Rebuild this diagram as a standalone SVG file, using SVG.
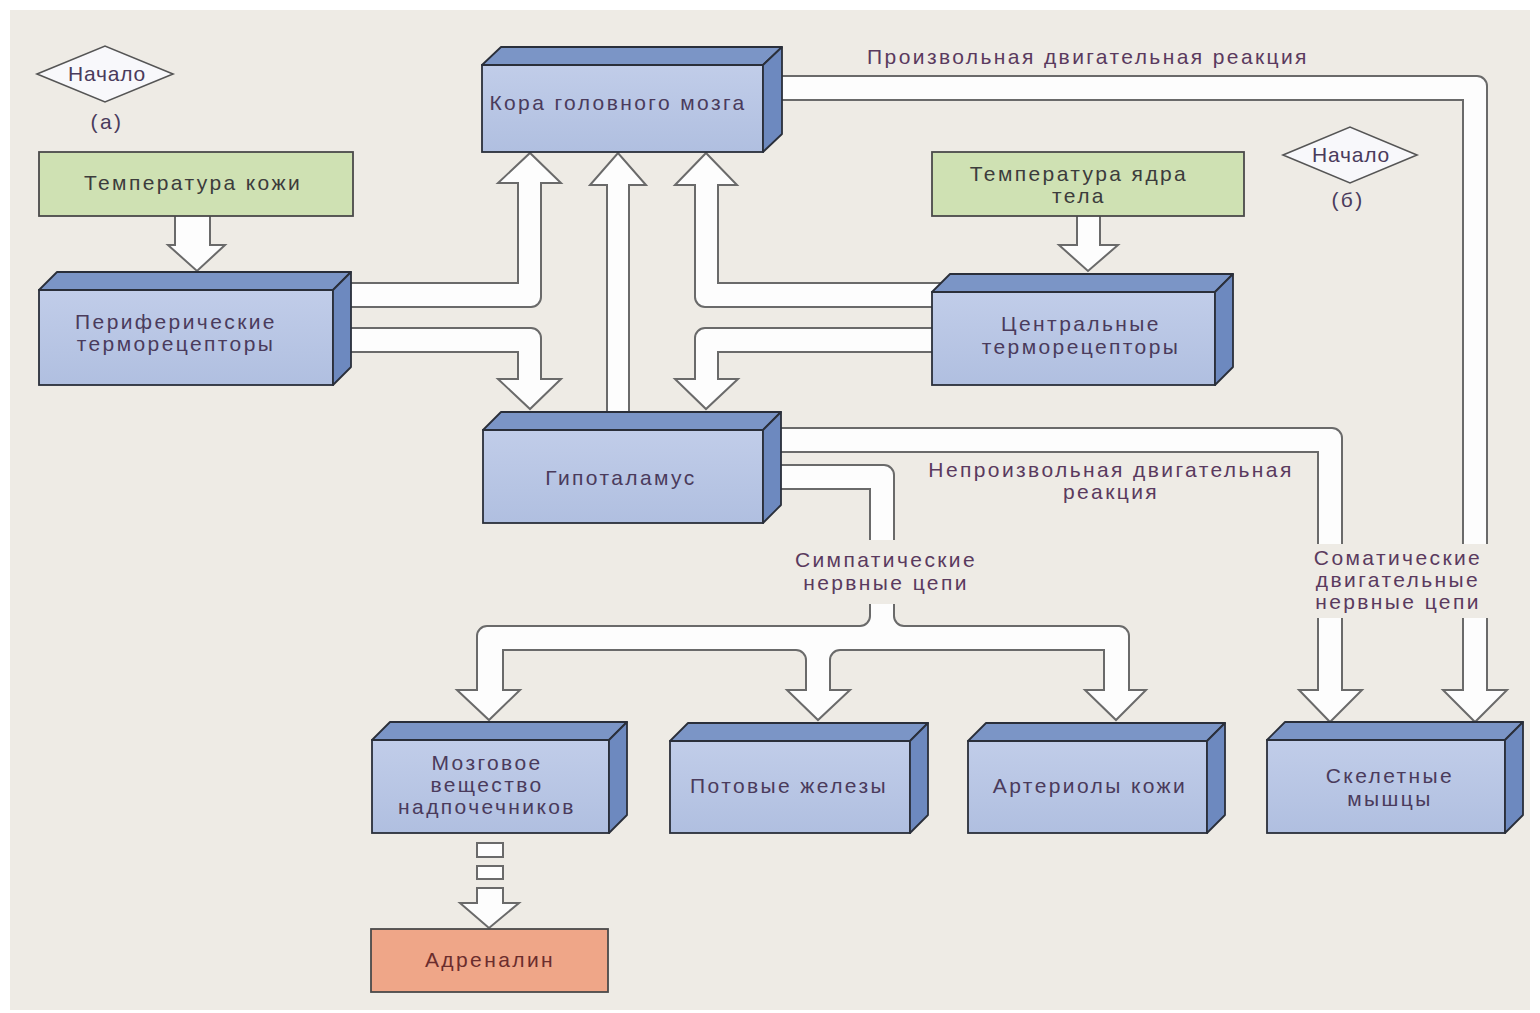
<svg xmlns="http://www.w3.org/2000/svg" width="1540" height="1013" viewBox="0 0 1540 1013">
<style>
.t{font-family:"Liberation Sans",Arial,sans-serif;font-size:21px;letter-spacing:2.4px;text-anchor:middle;fill:#4a3b5c}
.tg{fill:#3c3c3c}
.ta{fill:#6b2d2d}
.tl{fill:#5a3a5e}
.front{fill:url(#gFront);stroke:#2a2f3a;stroke-width:1.8}
.top{fill:#7b95c6;stroke:#2a2f3a;stroke-width:1.8;stroke-linejoin:round}
.side{fill:#6d89bf;stroke:#2a2f3a;stroke-width:1.8;stroke-linejoin:round}
.arr{fill:#fdfdfd;stroke:#6a6a6a;stroke-width:2;stroke-linejoin:miter}
.green{fill:#cfe1b3;stroke:#4a4a4a;stroke-width:1.8}
.salmon{fill:#efa688;stroke:#4a4a4a;stroke-width:1.8}
.dia{fill:#f8f8fb;stroke:#555;stroke-width:1.6}
.bg{fill:#eeebe5}
</style>
<defs>
<linearGradient id="gFront" x1="0" y1="0" x2="0" y2="1">
<stop offset="0" stop-color="#c1cde9"/>
<stop offset="1" stop-color="#b0bfe0"/>
</linearGradient>
</defs>
<rect x="0" y="0" width="1540" height="1013" fill="#ffffff"/>
<rect x="10" y="10" width="1520" height="1000" class="bg"/>

<g id="connectors">
<path class="arr" d="M175,212 V245 H168 L197,271 L225,245 H210 V212 Z"/>
<path class="arr" d="M1077,212 V245 H1059 L1088,271 L1118,245 H1100 V212 Z"/>
<path class="arr" d="M340,283 H518 V183 H498 L530,153 L561,183 H541 V297 A10,10 0 0 1 531,307 H340 Z"/>
<path class="arr" d="M340,328 H531 A10,10 0 0 1 541,338 V379 H561 L530,409 L498,379 H518 V352 H340 Z"/>
<path class="arr" d="M607,425 V185 H590 L618,153 L646,185 H629 V425 Z"/>
<path class="arr" d="M945,283 H718 V185 H737 L706,153 L675,185 H695 V297 A10,10 0 0 0 705,307 H945 Z"/>
<path class="arr" d="M945,328 H705 A10,10 0 0 0 695,338 V379 H675 L706,409 L738,379 H718 V352 H945 Z"/>
<path class="arr" d="M770,76 H1477 A10,10 0 0 1 1487,86 V690 H1507 L1475,722 L1443,690 H1463 V100 H770 Z"/>
<path class="arr" d="M770,428 H1332 A10,10 0 0 1 1342,438 V690 H1362 L1330,722 L1299,690 H1318 V452 H770 Z"/>
<path class="arr" d="M770,465 H884 A10,10 0 0 1 894,475 V616 A10,10 0 0 0 904,626 H1119 A10,10 0 0 1 1129,636 V690 H1146 L1116,720 L1085,690 H1104 V650 H840 A10,10 0 0 0 830,660 V690 H850 L818,720 L787,690 H806 V660 A10,10 0 0 0 796,650 H503 V690 H520 L489,720 L457,690 H477 V636 A10,10 0 0 1 487,626 H860 A10,10 0 0 0 870,616 V489 H770 Z"/>
<rect class="arr" x="477" y="843" width="26" height="14"/>
<rect class="arr" x="477" y="866" width="26" height="13"/>
<path class="arr" d="M477,888 V903 H460 L489,928 L519,903 H503 V888 Z"/>
<rect class="bg" x="864" y="540" width="36" height="64"/>
<rect class="bg" x="1312" y="544" width="180" height="74"/>
<text class="t tl" x="1088" y="64">Произвольная двигательная реакция</text>
<text class="t tl" x="1111" y="477">Непроизвольная двигательная</text>
<text class="t tl" x="1111" y="499">реакция</text>
<text class="t tl" x="886" y="567">Симпатические</text>
<text class="t tl" x="886" y="590">нервные цепи</text>
<text class="t tl" x="1398" y="565">Соматические</text>
<text class="t tl" x="1398" y="587">двигательные</text>
<text class="t tl" x="1398" y="609">нервные цепи</text>
</g>

<g id="start-a">
<polygon class="dia" points="37,74 105,46 173,74 105,102"/>
<text class="t" x="107" y="81" style="letter-spacing:0.8px">Начало</text>
<text class="t" x="107" y="129">(а)</text>
</g>
<g id="start-b">
<polygon class="dia" points="1283,155 1350,127 1417,155 1350,183"/>
<text class="t" x="1351" y="162" style="letter-spacing:0.8px">Начало</text>
<text class="t" x="1348" y="207">(б)</text>
</g>

<g id="skin-temp">
<rect class="green" x="39" y="152" width="314" height="64"/>
<text class="t tg" x="193" y="190">Температура кожи</text>
</g>
<g id="core-temp">
<rect class="green" x="932" y="152" width="312" height="64"/>
<text class="t tg" x="1079" y="181">Температура ядра</text>
<text class="t tg" x="1079" y="203">тела</text>
</g>

<g id="cortex">
<rect class="front" x="482" y="65" width="281" height="87"/>
<polygon class="top" points="482,65 501,47 782,47 763,65"/>
<polygon class="side" points="763,65 782,47 782,134 763,152"/>
<text class="t" x="618" y="110">Кора головного мозга</text>
</g>
<g id="peripheral">
<rect class="front" x="39" y="290" width="294" height="95"/>
<polygon class="top" points="39,290 57,272 351,272 333,290"/>
<polygon class="side" points="333,290 351,272 351,367 333,385"/>
<text class="t" x="176" y="329">Периферические</text>
<text class="t" x="176" y="351">терморецепторы</text>
</g>
<g id="central">
<rect class="front" x="932" y="292" width="283" height="93"/>
<polygon class="top" points="932,292 950,274 1233,274 1215,292"/>
<polygon class="side" points="1215,292 1233,274 1233,367 1215,385"/>
<text class="t" x="1081" y="331">Центральные</text>
<text class="t" x="1081" y="354">терморецепторы</text>
</g>
<g id="hypothalamus">
<rect class="front" x="483" y="430" width="280" height="93"/>
<polygon class="top" points="483,430 501,412 781,412 763,430"/>
<polygon class="side" points="763,430 781,412 781,505 763,523"/>
<text class="t" x="621" y="485">Гипоталамус</text>
</g>
<g id="adrenal">
<rect class="front" x="372" y="740" width="237" height="93"/>
<polygon class="top" points="372,740 390,722 627,722 609,740"/>
<polygon class="side" points="609,740 627,722 627,815 609,833"/>
<text class="t" x="487" y="770">Мозговое</text>
<text class="t" x="487" y="792">вещество</text>
<text class="t" x="487" y="814">надпочечников</text>
</g>
<g id="sweat">
<rect class="front" x="670" y="741" width="240" height="92"/>
<polygon class="top" points="670,741 688,723 928,723 910,741"/>
<polygon class="side" points="910,741 928,723 928,815 910,833"/>
<text class="t" x="789" y="793">Потовые железы</text>
</g>
<g id="arterioles">
<rect class="front" x="968" y="741" width="239" height="92"/>
<polygon class="top" points="968,741 986,723 1225,723 1207,741"/>
<polygon class="side" points="1207,741 1225,723 1225,815 1207,833"/>
<text class="t" x="1090" y="793">Артериолы кожи</text>
</g>
<g id="skeletal">
<rect class="front" x="1267" y="740" width="238" height="93"/>
<polygon class="top" points="1267,740 1285,722 1523,722 1505,740"/>
<polygon class="side" points="1505,740 1523,722 1523,815 1505,833"/>
<text class="t" x="1390" y="783">Скелетные</text>
<text class="t" x="1390" y="806">мышцы</text>
</g>
<g id="adrenaline">
<rect class="salmon" x="371" y="929" width="237" height="63"/>
<text class="t ta" x="490" y="967">Адреналин</text>
</g>
</svg>
